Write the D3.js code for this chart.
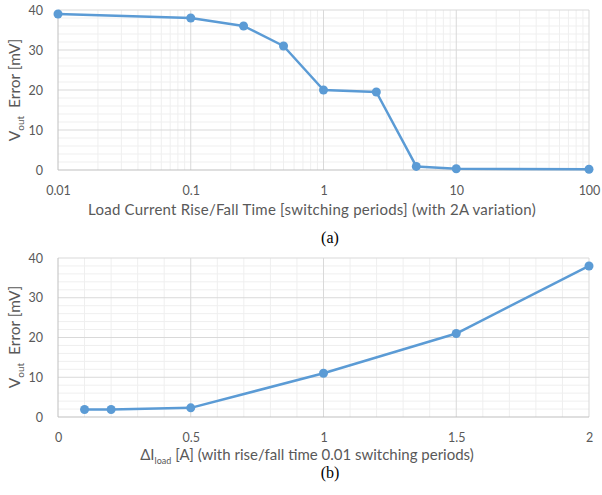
<!DOCTYPE html>
<html>
<head>
<meta charset="utf-8">
<script src="https://cdn.jsdelivr.net/npm/d3@7"></script>
<style>
body { margin: 0; background: #fff; }
svg { display: block; }
.tick text { font-family: Lato, sans-serif; fill: #595959; }
</style>
</head>
<body>
<svg id="chart" width="602" height="495"></svg>
<script>
// chart (a): error vs rise/fall time
var riseTime = [0.01, 0.1, 0.25, 0.5, 1, 2.5, 5, 10, 100]
var riseError = [39, 38, 36, 31, 20, 19.5, 0.9, 0.3, 0.2]
var riseTicks = [0.01, 0.1, 1, 10, 100]

// chart (b): error vs load step
var loadStep = [0.1, 0.2, 0.5, 1, 1.5, 2]
var loadError = [1.9, 1.9, 2.3, 11, 21, 38]
var loadTicks = [0, 0.5, 1, 1.5, 2]

var yTicks = [0, 10, 20, 30, 40]

var blue = "#5b9bd5"
var svg = d3.select("#chart")
var font = "Lato, sans-serif"
var fs = "15px"
var tickFs = "12.5px"

function drawPanel(cfg) {
    var x = cfg.x, y = cfg.y
    var g = svg.append("g")
    var x0 = x.range()[0], x1 = x.range()[1]
    var y0 = y.range()[0], y1 = y.range()[1]

    // minor grid
    g.selectAll(".hminor").data(d3.range(0, 41, 2).filter(function(d){return d % 10 != 0}))
        .enter().append("line")
        .attr("x1", x0).attr("x2", x1)
        .attr("y1", function(d){return y(d)}).attr("y2", function(d){return y(d)})
        .attr("stroke", "#efefef")
    g.selectAll(".vminor").data(cfg.minorX)
        .enter().append("line")
        .attr("y1", y0).attr("y2", y1)
        .attr("x1", function(d){return x(d)}).attr("x2", function(d){return x(d)})
        .attr("stroke", "#efefef")
    // major grid
    g.selectAll(".hmajor").data(yTicks.slice(1))
        .enter().append("line")
        .attr("x1", x0).attr("x2", x1)
        .attr("y1", function(d){return y(d)}).attr("y2", function(d){return y(d)})
        .attr("stroke", "#d9d9d9")
    g.selectAll(".vmajor").data(cfg.ticks.slice(1))
        .enter().append("line")
        .attr("y1", y0).attr("y2", y1)
        .attr("x1", function(d){return x(d)}).attr("x2", function(d){return x(d)})
        .attr("stroke", "#d9d9d9")
    g.append("line").attr("x1", x0).attr("x2", x0).attr("y1", y0).attr("y2", y1).attr("stroke", "#bfbfbf")
    g.append("line").attr("x1", x0).attr("x2", x1).attr("y1", y0).attr("y2", y0).attr("stroke", "#bfbfbf")

    var xAxis = d3.axisBottom(x).tickValues(cfg.ticks).tickSize(0).tickPadding(16.5).tickFormat(cfg.fmt)
    g.append("g").attr("transform", "translate(0," + y0 + ")").call(xAxis)
        .call(function(s){ s.select(".domain").remove() })
        .selectAll("text").style("font-size", tickFs)

    var yAxis = d3.axisLeft(y).tickValues(yTicks).tickSize(0).tickPadding(15)
    g.append("g").attr("transform", "translate(" + x0 + ",0)").call(yAxis)
        .call(function(s){ s.select(".domain").remove() })
        .selectAll("text").style("font-size", tickFs)

    var line = d3.line().x(function(d){return x(d[0])}).y(function(d){return y(d[1])})
    var pts = d3.zip(cfg.xs, cfg.ys)
    g.append("path").datum(pts).attr("d", line)
        .attr("fill", "none").attr("stroke", blue).attr("stroke-width", 2.5).attr("stroke-linejoin", "round")
    g.selectAll("circle").data(pts).enter().append("circle")
        .attr("cx", function(d){return x(d[0])}).attr("cy", function(d){return y(d[1])})
        .attr("r", 4.5).attr("fill", blue)

    // y title
    var yt = g.append("text")
        .attr("transform", "translate(20," + cfg.yTitleY + ") rotate(-90)")
        .attr("text-anchor", "middle")
        .attr("xml:space", "preserve")
        .style("font-family", font).style("font-size", "15.5px").style("fill", "#595959")
    yt.append("tspan").text("V")
    yt.append("tspan").attr("dy", 4).style("font-size", "10px").text("out")
    yt.append("tspan").attr("dy", -4).text("  Error [mV]")

    // x title
    var xt = g.append("text")
        .attr("x", cfg.xTitleX).attr("y", cfg.xTitleY)
        .attr("text-anchor", "middle")
        .style("font-family", font).style("font-size", fs).style("letter-spacing", cfg.ls)
        .style("fill", "#595959")
    cfg.xTitle(xt)

    g.append("text").attr("x", 330).attr("y", cfg.capY)
        .attr("text-anchor", "middle")
        .style("font-family", "'Liberation Serif', serif").style("font-size", "16px").style("fill", "#000")
        .text(cfg.cap)
}

var minorLog = []
for (var e = -2; e < 2; e++) for (var k = 2; k < 10; k++) minorLog.push(k * Math.pow(10, e))

drawPanel({
    x: d3.scaleLog().domain([0.01, 100]).range([58, 589]),
    y: d3.scaleLinear().domain([0, 40]).range([170, 10]),
    xs: riseTime, ys: riseError, ticks: riseTicks, minorX: minorLog,
    fmt: function(d){ return String(d) },
    yTitleY: 90, xTitleX: 312, xTitleY: 215, ls: "0.23px", capY: 243, cap: "(a)",
    xTitle: function(t){ t.text("Load Current Rise/Fall Time [switching periods] (with 2A variation)") }
})

drawPanel({
    x: d3.scaleLinear().domain([0, 2]).range([58, 589]),
    y: d3.scaleLinear().domain([0, 40]).range([417, 258]),
    xs: loadStep, ys: loadError, ticks: loadTicks,
    minorX: d3.range(1, 20).map(function(d){return d / 10}).filter(function(d){return Math.round(d*10) % 5 != 0}),
    fmt: function(d){ return String(d) },
    yTitleY: 337, xTitleX: 307, xTitleY: 460, ls: "0px", capY: 477.5, cap: "(b)",
    xTitle: function(t){
        t.append("tspan").text("\u0394I")
        t.append("tspan").attr("dy", 4).style("font-size", "9px").text("load")
        t.append("tspan").attr("dy", -4).text(" [A] (with rise/fall time 0.01 switching periods)")
    }
})
</script>
</body>
</html>
